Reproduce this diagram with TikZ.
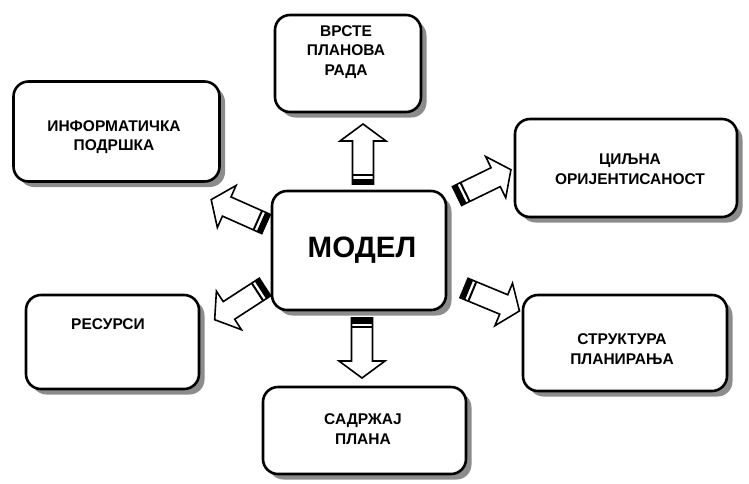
\documentclass[tikz,border=0pt]{standalone}
\usepackage{fontspec}
\setmainfont{Liberation Sans}
\usetikzlibrary{shadows}
\tikzset{
  box/.style={draw, line width=2.6pt, rounded corners=15pt, fill=white,
    drop shadow={shadow xshift=5.5pt, shadow yshift=-5.5pt, fill=black!45, opacity=1}},
  lbl/.style={font=\bfseries\fontsize{15.5}{19.5}\selectfont, align=center, inner sep=0pt},
  big/.style={font=\bfseries\fontsize{29.5}{32}\selectfont, inner sep=0pt},
  barrow/.pic={
    \draw[line width=1.6pt, fill=white, line join=miter]
      (0,-10.5) -- (43,-10.5) -- (43,-23) -- (60,0) -- (43,23) -- (43,10.5) -- (0,10.5) -- cycle;
    \fill[black] (0,-10.5) rectangle (5.5,10.5);
    \fill[black] (8,-10.5) rectangle (10,10.5);
  }
}
\begin{document}
\begin{tikzpicture}[x=1pt, y=-1pt]
\useasboundingbox (0,0) rectangle (749,483);
% arrow tails
\coordinate (tU) at (363,184);
\coordinate (tD) at (362,318);
\coordinate (tUL) at (266,224);
\coordinate (tLL) at (265,287);
\coordinate (tUR) at (457,196);
\coordinate (tLR) at (464,288);
\pic[rotate=90] at (tU) {barrow};
\pic[rotate=-90] at (tD) {barrow};
\pic[rotate=156] at (tUL) {barrow};
\pic[rotate=213] at (tLL) {barrow};
\pic[rotate=26] at (tUR) {barrow};
\pic[rotate=-22.5] at (tLR) {barrow};
% boxes
\node[box, minimum width=146pt, minimum height=97pt] (vrste) at (348,63.5) {};
\node[box, minimum width=206pt, minimum height=100pt] (info) at (116.5,131.5) {};
\node[box, minimum width=222pt, minimum height=98pt] (cilj) at (626,168) {};
\node[box, minimum width=174pt, minimum height=119pt] (model) at (359,250.5) {};
\node[box, minimum width=173pt, minimum height=94pt] (res) at (112.5,342) {};
\node[box, minimum width=203pt, minimum height=87pt] (sad) at (364.5,430.5) {};
\node[box, minimum width=204pt, minimum height=96pt] (str) at (625,343) {};
% labels
\node[lbl] (vrsteT) at (346,52) {ВРСТЕ\\ПЛАНОВА\\РАДА};
\node[lbl] (infoT) at (114,137) {ИНФОРМАТИЧКА\\ПОДРШКА};
\node[lbl] (ciljT) at (630,169) {ЦИЉНА\\ОРИЈЕНТИСАНОСТ};
\node[big] (modelT) at (362,250) {МОДЕЛ};
\node[lbl] (resT) at (108,324) {РЕСУРСИ};
\node[lbl] (sadT) at (363,429) {САДРЖАЈ\\ПЛАНА};
\node[lbl] (strT) at (622,349) {СТРУКТУРА\\ПЛАНИРАЊА};
\end{tikzpicture}
\end{document}
